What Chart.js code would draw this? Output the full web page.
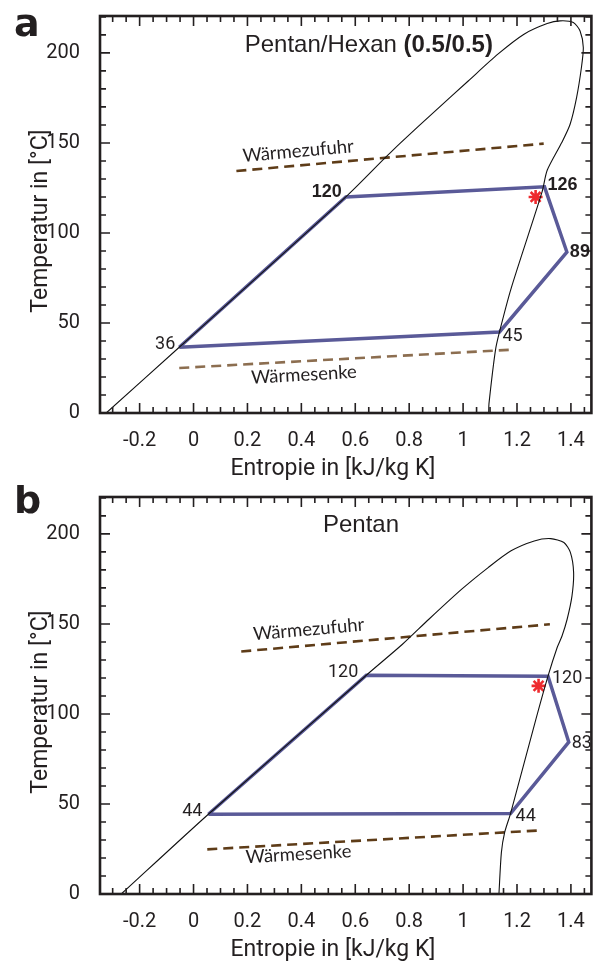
<!DOCTYPE html>
<html>
<head>
<meta charset="utf-8">
<script src="https://cdn.jsdelivr.net/npm/chart.js@4.4.1/dist/chart.umd.min.js"></script>
<style>
  html, body { margin: 0; padding: 0; background: #fff; }
  .panel { width: 601px; height: 481px; }
  canvas { display: block; }
</style>
</head>
<body>
<div class="panel"><canvas id="chartA" width="601" height="481"></canvas></div>
<div class="panel"><canvas id="chartB" width="601" height="481"></canvas></div>
<script>
// --- a: Pentan/Hexan (0.5/0.5) ---
const domeA_s = [-0.324, -0.053, 0.565, 0.714, 0.769, 0.897, 1.019, 1.129, 1.226, 1.312, 1.360, 1.409, 1.434, 1.446, 1.439, 1.421, 1.397, 1.366, 1.312, 1.293, 1.178, 1.135, 1.12, 1.096, 1.095];
const domeA_T = [0, 36.5, 120, 142.2, 150.2, 167.8, 184.4, 199.3, 210.4, 216.3, 217.8, 216.9, 212.2, 203, 191.9, 175.2, 160.4, 150.2, 134.8, 122.8, 69.1, 45, 34.8, 5.2, 0];
const cycleA_s = [-0.053, 0.565, 1.302, 1.385, 1.135, -0.053];
const cycleA_T = [36.5, 120, 125.6, 89.4, 45, 36.5];
const cycleA_labels = ["36", "120", "126", "89", "45"];
const supplyA_s = [0.159, 1.299];
const supplyA_T = [134.4, 149.6];
const sinkA_s = [-0.053, 1.184];
const sinkA_T = [25, 35.2];
const markA_s = [1.269];
const markA_T = [120];

// --- b: Pentan ---
const domeB_s = [-0.268, 0.055, 0.641, 0.775, 0.873, 0.995, 1.093, 1.178, 1.264, 1.325, 1.374, 1.398, 1.410, 1.404, 1.386, 1.367, 1.349, 1.315, 1.27, 1.176, 1.154, 1.142, 1.133];
const domeB_T = [0, 44.3, 121.5, 138.7, 152.6, 169.3, 181.3, 190.6, 196.1, 197.4, 195.2, 189.7, 178.6, 165.6, 152.6, 143.3, 136.9, 121, 97, 44.7, 34.1, 23, 0];
const cycleB_s = [0.055, 0.641, 1.315, 1.392, 1.176, 0.055];
const cycleB_T = [44.3, 121.5, 121, 84.4, 44.7, 44.3];
const cycleB_labels = ["44", "120", "120", "83", "44"];
const supplyB_s = [0.177, 1.322];
const supplyB_T = [134.7, 149.8];
const sinkB_s = [0.051, 1.294];
const sinkB_T = [24.8, 35.4];
const markB_s = [1.28];
const markB_T = [115.6];

const X_MIN = -0.347, X_MAX = 1.476, Y_MAX = 220.5;
const INK = "#231f20";
const CYCLE = "#5a5a98";
const COND = 'Roboto, "Liberation Sans", sans-serif';

const pts = (s, T) => s.map((v, i) => ({ x: v, y: T[i] }));

const decor = {
  id: "decor",
  afterDatasetsDraw(chart, args, o) {
    const { ctx, chartArea: a, scales: { x, y } } = chart;
    const px = (v) => x.getPixelForValue(v);
    const py = (v) => y.getPixelForValue(v);
    ctx.save();

    // inward ticks on all four sides
    ctx.strokeStyle = INK;
    ctx.lineWidth = 1.6;
    ctx.beginPath();
    for (let i = Math.ceil(x.min / 0.05 - 1e-9); i * 0.05 <= x.max + 1e-9; i++) {
      const X = px(i * 0.05), L = i % 4 === 0 ? 10 : 6;
      ctx.moveTo(X, a.bottom); ctx.lineTo(X, a.bottom - L);
      ctx.moveTo(X, a.top); ctx.lineTo(X, a.top + L);
    }
    for (let t = 10; t < y.max; t += 10) {
      const Y = py(t), L = t % 50 === 0 ? 10 : 6;
      ctx.moveTo(a.left, Y); ctx.lineTo(a.left + L, Y);
      ctx.moveTo(a.right, Y); ctx.lineTo(a.right - L, Y);
    }
    ctx.stroke();
    ctx.lineWidth = 2.6;
    ctx.strokeRect(a.left, a.top, a.right - a.left, a.bottom - a.top);

    // cycle point labels
    ctx.fillStyle = INK;
    ctx.textBaseline = "middle";
    o.labels.forEach((txt, i) => {
      const st = o.labelStyle[i];
      ctx.font = st.bold ? 'bold 18px "Liberation Sans", Arial, sans-serif' : "18px " + COND;
      ctx.textAlign = st.align;
      ctx.fillText(txt, px(o.cycleS[i]) + st.dx, py(o.cycleT[i]) + st.dy);
    });

    // rotated labels along the heat lines
    ctx.font = '18.5px Lato, "Open Sans", sans-serif';
    ctx.textAlign = "left";
    ctx.textBaseline = "alphabetic";
    o.lineLabels.forEach((l) => {
      const ang = Math.atan2(py(l.T[1]) - py(l.T[0]), px(l.s[1]) - px(l.s[0]));
      ctx.save();
      ctx.translate(px(l.at[0]), py(l.at[1]));
      ctx.rotate(ang);
      ctx.fillText(l.text, 0, 0);
      ctx.restore();
    });

    // panel title
    let tx = px(o.title.at[0]);
    const ty = py(o.title.at[1]);
    o.title.parts.forEach((p) => {
      ctx.font = (p.bold ? "bold " : "") + '24px "Liberation Sans", Arial, sans-serif';
      ctx.fillText(p.text, tx, ty);
      tx += ctx.measureText(p.text).width;
    });

    // axis titles
    ctx.font = "23px " + COND;
    ctx.textAlign = "center";
    ctx.fillText("Entropie in [kJ/kg K]", 333, 475);
    ctx.save();
    ctx.translate(47, 221);
    ctx.rotate(-Math.PI / 2);
    ctx.fillText("Temperatur in [\u00B0C]", 0, 0);
    ctx.restore();

    // panel letter
    ctx.textAlign = "left";
    ctx.font = 'bold 38px "DejaVu Sans", sans-serif';
    ctx.fillText(o.letter, 14, o.letterY);
    ctx.restore();
  },
};

function makeChart(id, d) {
  return new Chart(document.getElementById(id), {
    type: "scatter",
    data: {
      datasets: [
        { data: pts(d.domeS, d.domeT), showLine: true, borderColor: "#111", borderWidth: 1.1, pointRadius: 0, tension: 0.25 },
        { data: pts(d.cycleS, d.cycleT), showLine: true, borderColor: CYCLE, borderWidth: 3.5, pointRadius: 0, tension: 0 },
        { data: pts(d.supplyS, d.supplyT), showLine: true, borderColor: "#5e3c18", borderWidth: 2.6, borderDash: [10, 6], pointRadius: 0 },
        { data: pts(d.sinkS, d.sinkT), showLine: true, borderColor: d.sinkColor, borderWidth: 2.6, borderDash: [10, 6], pointRadius: 0 },
        { data: pts(d.markS, d.markT), showLine: false, pointStyle: "star", pointRadius: 7, borderColor: "#ee2a2e", borderWidth: 2.6 },
      ],
    },
    options: {
      responsive: false,
      animation: false,
      events: [],
      layout: { padding: { left: 0, right: 1, top: 16, bottom: 0 } },
      plugins: {
        legend: { display: false },
        tooltip: { enabled: false },
        decor: {
          labels: d.labels, labelStyle: d.labelStyle, cycleS: d.cycleS, cycleT: d.cycleT,
          lineLabels: d.lineLabels, title: d.title, letter: d.letter, letterY: d.letterY,
        },
      },
      scales: {
        x: {
          type: "linear", min: X_MIN, max: X_MAX,
          grid: { display: false }, border: { display: false },
          ticks: {
            stepSize: 0.2, includeBounds: false, padding: 8, color: INK,
            font: { family: COND, size: 20 },
            callback: (v) => String(Number(v.toFixed(1))),
          },
          afterFit: (s) => { s.height = 68; s.paddingLeft = 0; s.paddingRight = 0; },
        },
        y: {
          type: "linear", min: 0, max: Y_MAX,
          grid: { display: false }, border: { display: false },
          ticks: {
            stepSize: 50, includeBounds: false, padding: 12, color: INK,
            font: { family: COND, size: 20 },
          },
          afterFit: (s) => { s.width = 100; s.paddingTop = 0; s.paddingBottom = 0; },
        },
      },
    },
    plugins: [decor],
  });
}

makeChart("chartA", {
  domeS: domeA_s, domeT: domeA_T, cycleS: cycleA_s, cycleT: cycleA_T,
  supplyS: supplyA_s, supplyT: supplyA_T, sinkS: sinkA_s, sinkT: sinkA_T,
  markS: markA_s, markT: markA_T, sinkColor: "#8c6e50",
  labels: cycleA_labels,
  labelStyle: [
    { dx: -4, dy: -3, align: "right", bold: false },
    { dx: -4, dy: -5, align: "right", bold: true },
    { dx: 3, dy: -2, align: "left", bold: true },
    { dx: 3, dy: 0, align: "left", bold: true },
    { dx: 3, dy: 5, align: "left", bold: false },
  ],
  lineLabels: [
    { text: "Wärmezufuhr", at: [0.184, 139.4], s: supplyA_s, T: supplyA_T },
    { text: "Wärmesenke", at: [0.215, 16.3], s: sinkA_s, T: sinkA_T },
  ],
  title: { at: [0.19, 200.4], parts: [{ text: "Pentan/Hexan ", bold: false }, { text: "(0.5/0.5)", bold: true }] },
  letter: "a", letterY: 36,
});

makeChart("chartB", {
  domeS: domeB_s, domeT: domeB_T, cycleS: cycleB_s, cycleT: cycleB_T,
  supplyS: supplyB_s, supplyT: supplyB_T, sinkS: sinkB_s, sinkT: sinkB_T,
  markS: markB_s, markT: markB_T, sinkColor: "#5e3c18",
  labels: cycleB_labels,
  labelStyle: [
    { dx: -6, dy: -3, align: "right", bold: false },
    { dx: -8, dy: -3, align: "right", bold: false },
    { dx: 4, dy: 2, align: "left", bold: false },
    { dx: 3, dy: 1, align: "left", bold: false },
    { dx: 5, dy: 3, align: "left", bold: false },
  ],
  lineLabels: [
    { text: "Wärmezufuhr", at: [0.223, 140.9], s: supplyB_s, T: supplyB_T },
    { text: "Wärmesenke", at: [0.195, 17.1], s: sinkB_s, T: sinkB_T },
  ],
  title: { at: [0.48, 200.8], parts: [{ text: "Pentan", bold: false }] },
  letter: "b", letterY: 32,
});
</script>
</body>
</html>
